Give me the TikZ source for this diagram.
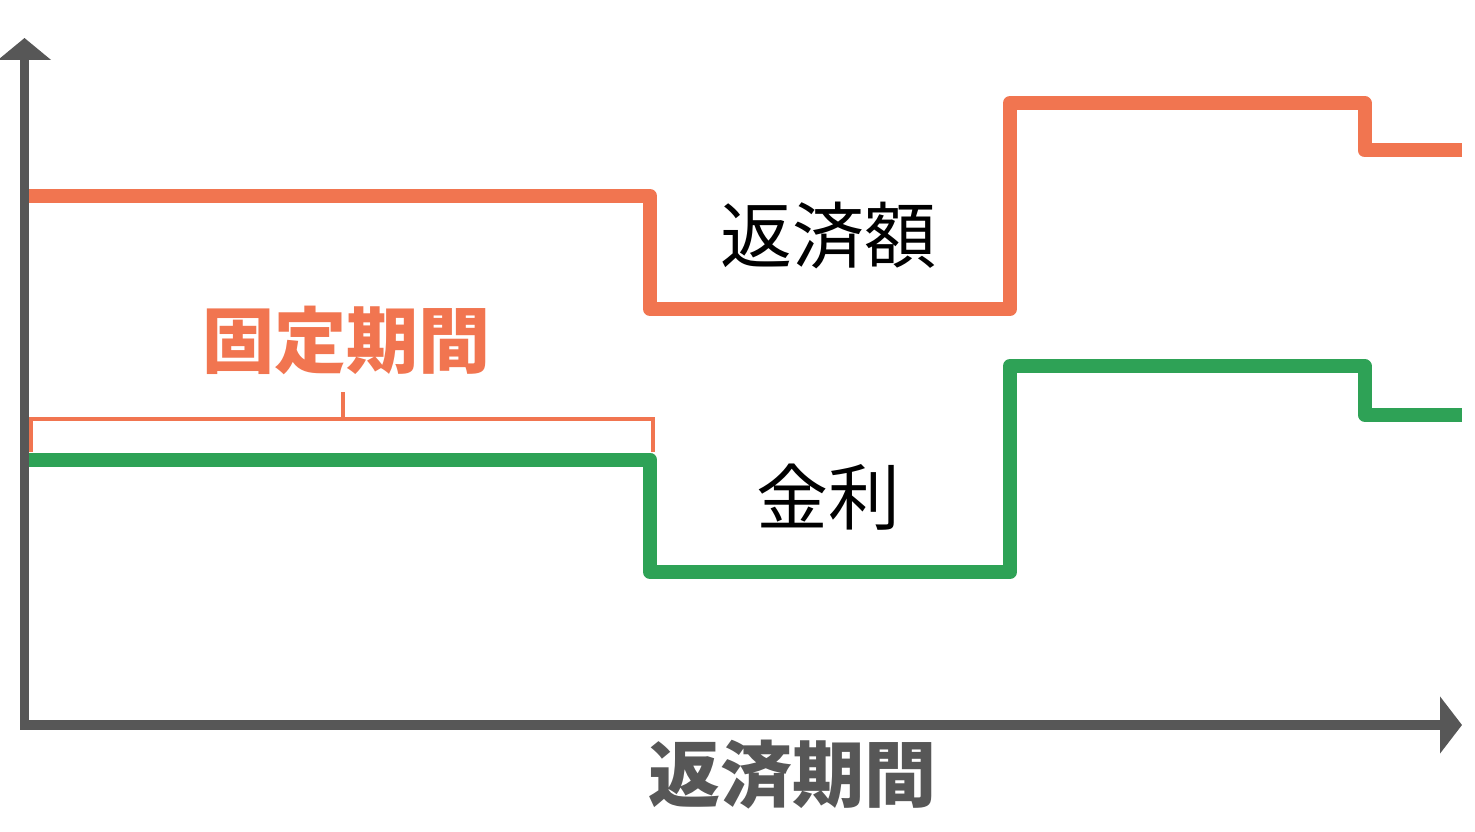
\documentclass[tikz,border=0pt]{standalone}
\usepackage{fontspec}
\newfontfamily\cjk{Noto Sans CJK JP}
\usetikzlibrary{arrows.meta}
\usetikzlibrary{positioning}
\definecolor{payorange}{HTML}{F17550}
\definecolor{rategreen}{HTML}{2EA256}
\definecolor{axisgray}{HTML}{575757}
\tikzset{
axisline/.style={
  draw=axisgray,line width=9.5pt},
stepline/.style={
  line width=14pt,line join=round},
bigtext/.style={
  font=\cjk\fontsize{72}{80}\selectfont,inner sep=0pt},
boldtext/.style={
  font=\cjk\bfseries\fontsize{72}{80}\selectfont,inner sep=0pt}
}

\begin{document}
\begin{tikzpicture}[x=1pt,y=-1pt]
\useasboundingbox (0,0) rectangle (1475,832);
\coordinate (Otid) at (24.5,725);
\coordinate (Ytop) at (24.5,38);
\coordinate (Xend) at (1462,725);

% axes
\draw[axisline,{Triangle[width=52pt,length=22pt]}-{Triangle[width=56pt,length=22pt]}]
  (Ytop) -- (Otid) -- (Xend);

% repayment and rate steps
\draw[stepline,payorange] (29,196) -- (650,196) -- (650,309) -- (1010,309)
  -- (1010,103) -- (1364.5,103) -- (1364.5,150.5) -- (1462,150.5);
\draw[stepline,rategreen] (29,459.5) -- (650,459.5) -- (650,572) -- (1010,572)
  -- (1010,366) -- (1364.5,366) -- (1364.5,414.5) -- (1462,414.5);

% bracket of the fixed period
\coordinate (Bleft) at (31,452);
\coordinate (Bright) at (653,452);
\coordinate (Bmid) at (343,419);
\coordinate (Btick) at (343,392);
\draw[payorange,line width=4pt] (Bleft) |- (Bright |- Bmid) -- (Bright);
\draw[payorange,line width=4pt] (Bmid) -- (Btick);

\node[bigtext] (repay) at (828,235) {返済額};
\node[bigtext] (rate) at (828,497) {金利};
\node[boldtext,text=payorange] (fixed) at (346,340) {固定期間};
\node[boldtext,text=axisgray] (period) at (792,775) {返済期間};

\end{tikzpicture}
\end{document}
